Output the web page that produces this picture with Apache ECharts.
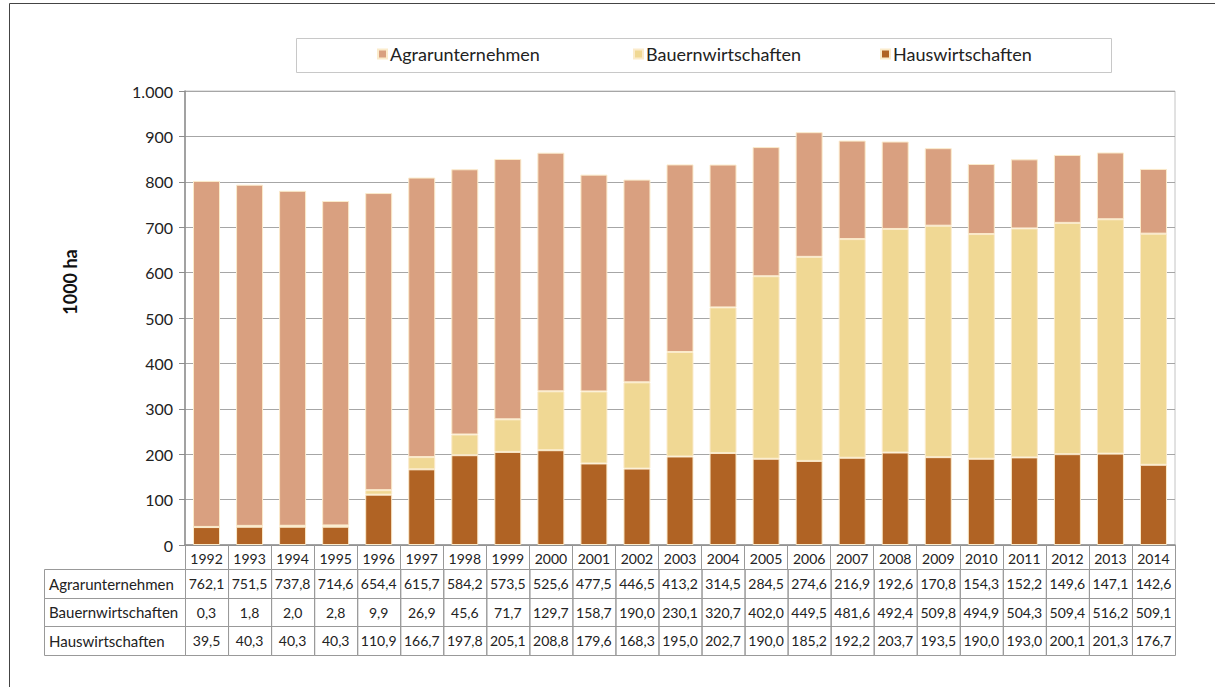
<!DOCTYPE html>
<html>
<head>
<meta charset="utf-8">
<script src="https://cdn.jsdelivr.net/npm/echarts@6/dist/echarts.min.js"></script>
<style>
  html, body { margin: 0; padding: 0; background: #fff; }
  #chart { width: 1215px; height: 687px; }
</style>
</head>
<body>
<div id="chart"></div>
<script>
const years = ['1992', '1993', '1994', '1995', '1996', '1997', '1998', '1999', '2000', '2001', '2002', '2003',
  '2004', '2005', '2006', '2007', '2008', '2009', '2010', '2011', '2012', '2013', '2014']
const agrar = [762.1, 751.5, 737.8, 714.6, 654.4, 615.7, 584.2, 573.5, 525.6, 477.5, 446.5, 413.2,
  314.5, 284.5, 274.6, 216.9, 192.6, 170.8, 154.3, 152.2, 149.6, 147.1, 142.6]
const bauern = [0.3, 1.8, 2.0, 2.8, 9.9, 26.9, 45.6, 71.7, 129.7, 158.7, 190.0, 230.1,
  320.7, 402.0, 449.5, 481.6, 492.4, 509.8, 494.9, 504.3, 509.4, 516.2, 509.1]
const haus = [39.5, 40.3, 40.3, 40.3, 110.9, 166.7, 197.8, 205.1, 208.8, 179.6, 168.3, 195.0,
  202.7, 190.0, 185.2, 192.2, 203.7, 193.5, 190.0, 193.0, 200.1, 201.3, 176.7]
const seriesNames = ['Agrarunternehmen', 'Bauernwirtschaften', 'Hauswirtschaften']

const FONT = 'Lato, "Noto Sans", sans-serif'
const colors = {
  Agrarunternehmen: '#D9A080',
  Bauernwirtschaften: '#F0D894',
  Hauswirtschaften: '#B06324'
}
const fmt = v => v.toFixed(1).replace('.', ',')
const fmtTick = v => (v >= 1000 ? String(v).replace(/(\d)(?=(\d{3})+$)/, '$1.') : String(v))

const myChart = echarts.init(document.getElementById('chart'), null, { renderer: 'svg' })

const legendLeft = [377, 633, 880]
const legends = seriesNames.map((name, i) => ({
  data: [name],
  left: legendLeft[i],
  top: 45,
  icon: 'rect',
  itemWidth: 9,
  itemHeight: 9,
  itemGap: 0,
  padding: 0,
  selectedMode: false,
  textStyle: { fontFamily: FONT, fontSize: 18, color: '#222', padding: [0, 0, 0, -2] }
}))

const barStyle = name => ({
  color: colors[name],
  borderColor: '#FBEBCB',
  borderWidth: 1
})

const options = {
  animation: false,
  legend: legends,
  grid: {
    left: 185,
    right: 40,
    top: 91,
    bottom: 142,
    show: true,
    borderColor: '#c4c4c4',
    borderWidth: 1
  },
  xAxis: {
    type: 'category',
    data: years,
    axisLine: { lineStyle: { color: '#8c8c8c', width: 1.5 } },
    axisTick: { show: true, interval: 0, length: 24, lineStyle: { color: '#999' } },
    axisLabel: { interval: 0, fontFamily: FONT, fontSize: 14, color: '#222', margin: 6 }
  },
  yAxis: {
    type: 'value',
    min: 0,
    max: 1000,
    interval: 100,
    axisLine: { show: true, lineStyle: { color: '#8c8c8c', width: 1.5 } },
    axisTick: { show: true, length: 6, lineStyle: { color: '#8c8c8c' } },
    axisLabel: { fontFamily: FONT, fontSize: 16, color: '#222', margin: 12, formatter: fmtTick },
    splitLine: { lineStyle: { color: '#a6a6a6', width: 1 } }
  },
  series: [
    { name: 'Hauswirtschaften', type: 'bar', stack: 'x', data: haus, barWidth: 27, itemStyle: barStyle('Hauswirtschaften') },
    { name: 'Bauernwirtschaften', type: 'bar', stack: 'x', data: bauern, barWidth: 27, itemStyle: barStyle('Bauernwirtschaften') },
    { name: 'Agrarunternehmen', type: 'bar', stack: 'x', data: agrar, barWidth: 27, itemStyle: barStyle('Agrarunternehmen') }
  ]
}
myChart.setOption(options)

// Tabelle unter dem Diagramm
const rows = [
  { label: 'Agrarunternehmen', values: agrar },
  { label: 'Bauernwirtschaften', values: bauern },
  { label: 'Hauswirtschaften', values: haus }
]
const rowTop = [569, 598, 626]
const rowBottom = [598, 626, 655]
const labelLeft = 44
const graphics = []

const x0 = myChart.convertToPixel({ xAxisIndex: 0 }, 0)
const x1 = myChart.convertToPixel({ xAxisIndex: 0 }, 1)
const colW = x1 - x0

rows.forEach((row, r) => {
  const h = rowBottom[r] - rowTop[r]
  const tableLeft = x0 - colW / 2
  graphics.push({
    type: 'rect',
    shape: { x: labelLeft + 0.5, y: rowTop[r] + 0.5, width: tableLeft - labelLeft, height: h },
    style: { fill: 'none', stroke: '#999', lineWidth: 1 },
    silent: true
  })
  graphics.push({
    type: 'text',
    x: labelLeft + 5,
    y: rowTop[r] + h / 2,
    style: { text: row.label, fontFamily: FONT, fontSize: 15, fill: '#222', verticalAlign: 'middle', align: 'left' },
    silent: true
  })
  row.values.forEach((v, c) => {
    const cx = myChart.convertToPixel({ xAxisIndex: 0 }, c)
    graphics.push({
      type: 'rect',
      shape: { x: cx - colW / 2 + 0.5, y: rowTop[r] + 0.5, width: colW, height: h },
      style: { fill: 'none', stroke: '#999', lineWidth: 1 },
      silent: true
    })
    graphics.push({
      type: 'text',
      x: cx,
      y: rowTop[r] + h / 2,
      style: { text: fmt(v), fontFamily: FONT, fontSize: 14, fill: '#222', verticalAlign: 'middle', align: 'center' },
      silent: true
    })
  })
})

// Legendenrahmen, Achsentitel und äußerer Rahmen
graphics.push({
  type: 'rect',
  shape: { x: 296.5, y: 38.5, width: 815, height: 34 },
  style: { fill: 'none', stroke: '#c8c8c8', lineWidth: 1 },
  silent: true
})
graphics.push({
  type: 'text',
  x: 70,
  y: 282,
  rotation: Math.PI / 2,
  style: { text: '1000 ha', fontFamily: FONT, fontSize: 18, fontWeight: 'bold', fill: '#111', align: 'center', verticalAlign: 'middle' },
  silent: true
})
graphics.push({
  type: 'rect',
  shape: { x: 9.5, y: 3.5, width: 1220, height: 700 },
  style: { fill: 'none', stroke: '#444', lineWidth: 1 },
  silent: true
})

myChart.setOption({ graphic: graphics })
</script>
</body>
</html>
